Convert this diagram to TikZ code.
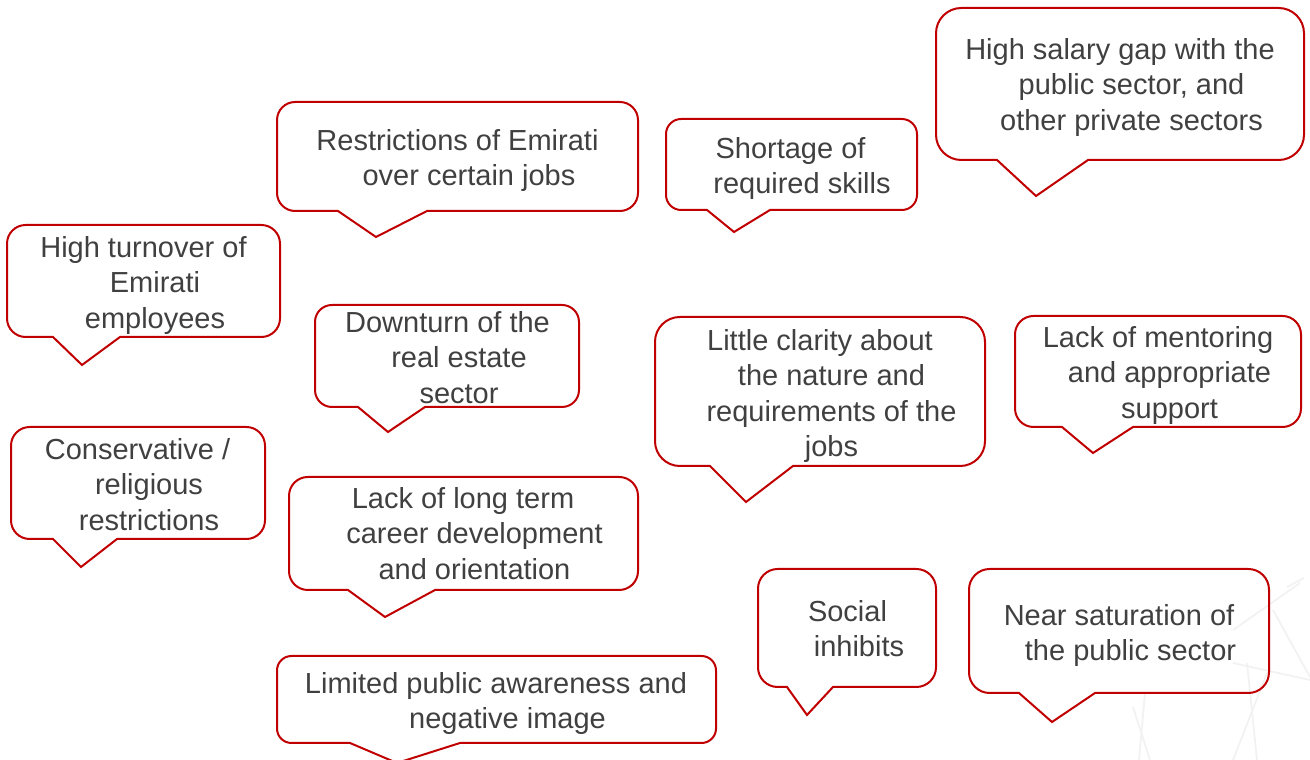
\documentclass[tikz,border=0pt]{standalone}
\usepackage{fontspec}
\setmainfont{Liberation Sans}
\definecolor{bubred}{HTML}{C00000}
\definecolor{ink}{HTML}{404040}
\definecolor{faint}{HTML}{F2F2F2}

% rounded callout with a downward wedge; arguments in pixel units, y measured downward:
% left, top, right, bottom, wedge start x, wedge tip x, wedge tip y, wedge end x
\newcommand\callout[8]{%
  \pgfmathsetmacro\cL{#1}\pgfmathsetmacro\cT{760-#2}%
  \pgfmathsetmacro\cRt{#3}\pgfmathsetmacro\cB{760-#4}%
  \pgfmathsetmacro\cTs{#5}\pgfmathsetmacro\cX{#6}\pgfmathsetmacro\cY{760-#7}%
  \pgfmathsetmacro\cTe{#8}%
  \pgfmathsetmacro\cR{min(#3-#1,#4-#2)/6}%
  \draw[bubble] (\cL+\cR,\cT) -- (\cRt-\cR,\cT)
    arc[start angle=90,end angle=0,radius=\cR pt] -- (\cRt,\cB+\cR)
    arc[start angle=0,end angle=-90,radius=\cR pt] -- (\cTe,\cB) -- (\cX,\cY) -- (\cTs,\cB)
    -- (\cL+\cR,\cB) arc[start angle=270,end angle=180,radius=\cR pt] -- (\cL,\cT-\cR)
    arc[start angle=180,end angle=90,radius=\cR pt] -- cycle;}
% text block: name, centre x of first line, first baseline (y downward), lines
\newcommand\callouttext[4]{%
  \node[txt] (#1) at (#2,785-#3) {\rule{0pt}{25pt}#4};}
\newcommand\indentline{\hspace*{23pt}}

\begin{document}
\begin{tikzpicture}[x=1pt,y=1pt,
  bubble/.style={draw=bubred,line width=2pt,line join=miter},
  txt/.style={anchor=north,inner sep=0pt,align=center,text=ink,
    font=\fontsize{29}{35.5}\selectfont},
  faintline/.style={draw=faint,line width=1.8pt}]
\useasboundingbox (0,0) rectangle (1310,760);

% faint geometric backdrop, lower right
\draw[faintline] (1300,177) -- (1233,130);
\draw[faintline] (1273,150) -- (1310,83);
\draw[faintline] (1233,97) -- (1310,80);
\draw[faintline] (1247,97) -- (1257,0);
\draw[faintline] (1267,87) -- (1233,0);
\draw[faintline] (1133,53) -- (1150,0);
\draw[faintline] (1145,67) -- (1139,0);
\draw[faintline] (1287,173) -- (1304,182);

% callout outlines
\callout{936}{8}{1304}{160}{997}{1036}{196}{1088}
\callout{277}{102}{638}{211}{338}{376}{237}{427}
\callout{666}{119}{917}{210}{707}{734}{232}{770}
\callout{7}{225}{280}{337}{53}{82}{365}{120}
\callout{11}{427}{265}{539}{53}{81}{567}{117}
\callout{315}{305}{579}{407}{358}{388}{432}{425}
\callout{655}{317}{985}{466}{710}{746}{502}{793}
\callout{1015}{316}{1301}{427}{1062}{1093}{453}{1133}
\callout{289}{477}{638}{590}{348}{385}{617}{435}
\callout{758}{569}{936}{687}{787}{807}{715}{833}
\callout{969}{569}{1269}{693}{1019}{1052}{722}{1095}
\callout{277}{656}{716}{743}{350}{397}{763}{460}

% callout texts
\callouttext{salary}{1120}{59}{High salary gap with the\\\indentline public sector, and\\\indentline other private sectors}
\callouttext{restrict}{457.5}{150}{Restrictions of Emirati\\\indentline over certain jobs}
\callouttext{shortage}{790.5}{158}{Shortage of\\\indentline required skills}
\callouttext{turnover}{143.5}{257}{High turnover of\\\indentline Emirati\\\indentline employees}
\callouttext{conserv}{137.5}{459}{Conservative /\\\indentline religious\\\indentline restrictions}
\callouttext{downturn}{447.5}{332}{Downturn of the\\\indentline real estate\\\indentline sector}
\callouttext{clarity}{820}{350}{Little clarity about\\\indentline the nature and\\\indentline requirements of the\\\indentline jobs}
\callouttext{mentor}{1158}{347}{Lack of mentoring\\\indentline and appropriate\\\indentline support}
\callouttext{career}{463}{508}{Lack of long term\\\indentline career development\\\indentline and orientation}
\callouttext{social}{847.5}{621}{Social\\\indentline inhibits}
\callouttext{saturation}{1119}{625}{Near saturation of\\\indentline the public sector}
\callouttext{image}{496}{693}{Limited public awareness and\\\indentline negative image}
\end{tikzpicture}
\end{document}
